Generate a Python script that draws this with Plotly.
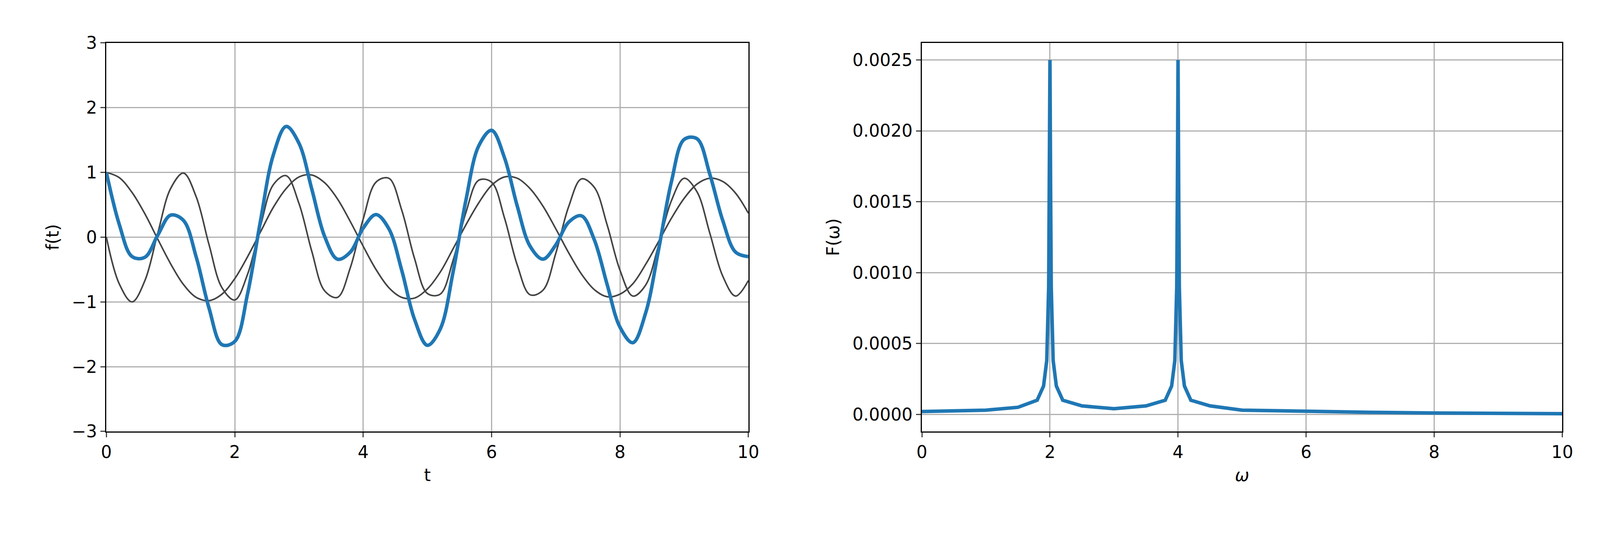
import plotly.graph_objects as go

# left panel: samples
t = [round(0.2 * i, 1) for i in range(51)]
f_cos = [1.00, 0.92, 0.69, 0.36, -0.03, -0.41, -0.73, -0.93, -0.98, -0.88,
         -0.64, -0.30, 0.08, 0.46, 0.75, 0.93, 0.96, 0.84, 0.59, 0.24,
         -0.14, -0.50, -0.78, -0.93, -0.94, -0.80, -0.54, -0.18, 0.19, 0.53,
         0.80, 0.93, 0.91, 0.75, 0.48, 0.13, -0.24, -0.57, -0.81, -0.92,
         -0.88, -0.72, -0.42, -0.07, 0.29, 0.60, 0.82, 0.91, 0.86, 0.68, 0.37]
f_sin = [0.00, -0.72, -1.00, -0.67, 0.06, 0.75, 0.99, 0.62, -0.12, -0.78,
         -0.97, -0.57, 0.17, 0.81, 0.95, 0.52, -0.22, -0.83, -0.93, -0.47,
         0.28, 0.85, 0.91, 0.42, -0.33, -0.87, -0.88, -0.36, 0.38, 0.88,
         0.85, 0.30, -0.43, -0.89, -0.82, -0.25, 0.47, 0.90, 0.77, 0.19,
         -0.51, -0.91, -0.74, -0.13, 0.56, 0.91, 0.70, 0.06, -0.60, -0.91, -0.67]
f_sum = [1.00, 0.20, -0.30, -0.31, 0.03, 0.34, 0.26, -0.31, -1.10, -1.66,
         -1.61, -0.87, 0.25, 1.27, 1.71, 1.45, 0.74, 0.01, -0.34, -0.23,
         0.14, 0.35, 0.13, -0.51, -1.27, -1.67, -1.42, -0.54, 0.57, 1.41,
         1.65, 1.23, 0.48, -0.14, -0.34, -0.12, 0.23, 0.33, -0.04, -0.73,
         -1.39, -1.63, -1.17, -0.20, 0.85, 1.51, 1.52, 0.97, 0.26, -0.23, -0.30]

# right panel: spectrum
omega = [0, 0.5, 1, 1.5, 1.8, 1.9, 1.95, 1.98, 1.99, 2.0, 2.01, 2.02, 2.05, 2.1, 2.2,
         2.5, 3, 3.5, 3.8, 3.9, 3.95, 3.98, 3.99, 4.0, 4.01, 4.02, 4.05, 4.1, 4.2,
         4.5, 5, 6, 7, 8, 9, 10]
spec = [0.00002, 0.000025, 0.00003, 0.00005, 0.0001, 0.0002, 0.00038, 0.0009, 0.0016,
        0.0025, 0.0016, 0.0009, 0.00038, 0.0002, 0.0001,
        0.00006, 0.00004, 0.00006, 0.0001, 0.0002, 0.00038, 0.0009, 0.0016,
        0.0025, 0.0016, 0.0009, 0.00038, 0.0002, 0.0001,
        0.00006, 0.00003, 0.00002, 0.000015, 0.00001, 0.000007, 0.000005]

BLUE = "#1f77b4"
GRAY = "#444444"
FONT = dict(family="DejaVu Sans", size=44, color="black")

fig = go.Figure()
fig.add_trace(go.Scatter(x=t, y=f_cos, mode="lines", line=dict(color=GRAY, width=4, shape="spline"), xaxis="x", yaxis="y"))
fig.add_trace(go.Scatter(x=t, y=f_sin, mode="lines", line=dict(color=GRAY, width=4, shape="spline"), xaxis="x", yaxis="y"))
fig.add_trace(go.Scatter(x=t, y=f_sum, mode="lines", line=dict(color=BLUE, width=9, shape="spline"), xaxis="x", yaxis="y"))
fig.add_trace(go.Scatter(x=omega, y=spec, mode="lines", line=dict(color=BLUE, width=9), xaxis="x2", yaxis="y2"))

ax = dict(showline=True, linecolor="black", linewidth=3, mirror=True, ticks="outside",
          ticklen=12, tickwidth=3, showgrid=True, gridcolor="#b0b0b0", gridwidth=3,
          zeroline=False, tickfont=FONT)

fig.update_layout(
    autosize=True, showlegend=False,
    plot_bgcolor="white", paper_bgcolor="white",
    margin=dict(l=0, r=0, t=0, b=0), font=FONT,
    xaxis=dict(ax, domain=[0.062, 0.469], range=[0, 10], dtick=2,
               title=dict(text="t", font=FONT, standoff=20), anchor="y"),
    yaxis=dict(ax, domain=[0.196, 0.943], range=[-3, 3], dtick=1,
               title=dict(text="f(t)", font=FONT, standoff=20), anchor="x"),
    xaxis2=dict(ax, domain=[0.579, 0.985], range=[0, 10], dtick=2,
                title=dict(text="<i>ω</i>", font=FONT, standoff=20), anchor="y2"),
    yaxis2=dict(ax, domain=[0.196, 0.943], range=[-0.00012, 0.00262], dtick=0.0005,
                tickformat=".4f", title=dict(text="F(ω)", font=FONT, standoff=20), anchor="x2"),
)

fig.write_html("out.html", default_width="100%", default_height="100vh")
